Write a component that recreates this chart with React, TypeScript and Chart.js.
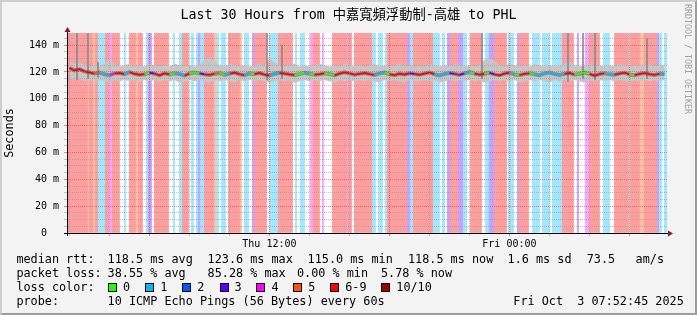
import React, { useEffect, useRef } from "react";
import { Chart, registerables } from "chart.js";

Chart.register(...registerables);

const MONO = "'DejaVu Sans Mono', 'Noto Sans CJK TC', monospace";

const TITLE = "Last 30 Hours from 中嘉寬頻浮動制-高雄 to PHL";
const SPAN_MINUTES = 1800;
const SAMPLE_MINUTES = 3;
const MEDIAN_STEP_MINUTES = 15;
const Y_MAX = 149;
const Y_GRID_STEP = 5;
const FIRST_TICK_MINUTE = 7.25;
const TICK_STEP_MINUTES = 120;

const xTickHours = [2, 4, 6, 8, 10, 12, 14, 16, 18, 20, 22, 0, 2, 4, 6];
const xTickLabels = ["", "", "", "", "", "Thu 12:00", "", "", "", "", "", "Fri 00:00", "", "", ""];
const yTickLabels = ["0  ", "20 m", "40 m", "60 m", "80 m", "100 m", "120 m", "140 m"];

const lossLabels = ["0", "1", "2", "3", "4", "5", "6-9", "10/10"];
const lossColors = ["#26ff00", "#00b8ff", "#0059ff", "#5e00ff", "#ff00fe", "#ff5500", "#ff0000", "#a10000"];
const lossShade = [
  "#ffffff",
  "rgba(0,184,255,0.33)",
  "rgba(0,89,255,0.33)",
  "rgba(94,0,255,0.33)",
  "rgba(255,0,254,0.33)",
  "rgba(255,85,0,0.33)",
  "rgba(255,0,0,0.34)",
  "rgba(161,0,0,0.33)",
];

// [loss class index, number of 3-minute samples]
const lossSegments: [number, number][] = [
  [6, 21], [5, 1], [6, 4], [5, 2], [6, 3], [1, 7], [6, 4], [4, 3], [6, 8], [0, 4], [1, 2], [0, 3],
  [6, 7], [5, 2], [6, 5], [0, 3], [1, 2], [3, 4], [0, 2], [6, 15], [0, 4], [1, 2], [0, 4], [1, 3],
  [6, 7], [0, 2], [1, 3], [0, 2], [1, 2], [3, 2], [1, 4], [6, 10], [5, 2], [1, 3], [0, 2], [1, 5],
  [0, 2], [6, 12], [5, 2], [0, 2], [1, 5], [0, 3], [3, 2], [6, 13],
  [0, 2], [1, 9], [6, 15], [0, 2], [1, 2], [0, 3], [1, 5], [0, 5], [4, 3], [6, 7], [0, 2], [4, 2],
  [0, 8], [6, 15], [4, 1], [6, 4], [0, 2], [6, 18], [1, 4], [0, 2], [1, 5], [0, 2], [1, 2], [6, 20],
  [3, 3], [1, 3], [6, 20], [1, 7], [0, 2], [1, 3], [0, 2], [3, 3], [6, 8], [3, 5], [1, 4], [0, 3],
  [6, 12], [0, 3], [1, 4], [3, 5], [6, 13], [0, 1], [1, 6], [0, 3], [3, 2], [6, 10], [0, 3], [1, 8],
  [0, 2], [1, 8], [0, 2], [1, 10], [6, 12], [0, 3], [3, 2], [0, 6], [4, 4], [6, 11], [0, 3], [1, 7],
  [0, 4], [6, 15], [0, 1], [6, 10], [5, 4], [6, 13], [3, 2], [1, 3], [0, 2], [1, 3],
];

// median rtt (ms), one value per 15 minutes
const medianRtt = [
  122.8, 121.2, 122.0, 120.4, 119.6, 118.8, 119.5, 118.2, 117.6, 118.9,
  119.2, 118.4, 119.8, 118.6, 117.9, 118.3, 119.4, 118.7, 117.5, 118.9,
  118.1, 119.0, 118.5, 117.2, 118.8, 119.6, 118.9, 118.2, 117.8, 118.6,
  119.1, 118.0, 118.7, 119.5, 118.3, 117.6, 118.9, 118.4, 119.2, 118.0,
  117.4, 118.6, 119.3, 118.8, 118.1, 117.7, 118.5, 119.4, 118.6, 117.9,
  118.3, 119.0, 118.4, 117.5, 118.8, 119.7, 118.9, 118.0, 118.6, 119.2,
  118.4, 117.8, 118.9, 119.5, 118.2, 117.6, 118.7, 118.1, 119.0, 118.5,
  117.9, 118.8, 119.6, 118.3, 117.4, 118.5, 119.1, 118.6, 117.8, 118.9,
  119.8, 118.7, 118.0, 118.6, 119.3, 118.2, 117.5, 118.8, 119.4, 118.1,
  117.7, 118.5, 119.0, 118.3, 117.6, 118.9, 119.5, 118.4, 117.8, 118.6,
  119.2, 118.0, 118.7, 119.6, 118.5, 117.3, 118.4, 119.0, 118.2, 117.9,
  118.8, 119.4, 118.1, 117.6, 118.5, 119.1, 118.3, 117.8, 118.6, 118.4,
];

// smoke envelope (ms), one value per 15 minutes
const smokeHigh = [
  128, 126, 127, 125, 124, 125, 124, 126, 130, 125,
  124, 125, 126, 124, 125, 124, 126, 125, 124, 125,
  124, 126, 125, 124, 125, 124, 125, 129, 131, 128,
  125, 124, 126, 125, 124, 125, 124, 125, 126, 125,
  130, 127, 125, 124, 125, 126, 124, 125, 124, 125,
  126, 125, 124, 125, 124, 126, 125, 124, 125, 124,
  125, 126, 124, 125, 124, 125, 126, 124, 125, 124,
  125, 124, 126, 125, 124, 125, 124, 126, 125, 124,
  125, 124, 125, 129, 130, 128, 125, 124, 126, 125,
  124, 125, 124, 126, 125, 124, 125, 124, 125, 126,
  128, 125, 124, 125, 126, 124, 125, 124, 125, 124,
  126, 125, 124, 125, 124, 125, 126, 124, 125, 125,
];
const smokeLow = [
  116, 114, 115, 113, 114, 113, 114, 113, 112, 114,
  113, 114, 113, 114, 112, 114, 113, 114, 113, 114,
  113, 114, 112, 113, 114, 113, 114, 113, 112, 114,
  113, 114, 113, 112, 114, 113, 114, 113, 114, 113,
  112, 113, 114, 113, 114, 112, 113, 114, 113, 114,
  113, 114, 113, 112, 114, 113, 114, 113, 114, 113,
  114, 113, 112, 114, 113, 114, 113, 112, 114, 113,
  113, 114, 113, 114, 112, 113, 114, 113, 114, 113,
  114, 113, 114, 112, 113, 114, 113, 114, 113, 114,
  112, 113, 114, 113, 114, 113, 112, 114, 113, 114,
  113, 114, 113, 112, 114, 113, 114, 113, 114, 113,
  114, 113, 112, 114, 113, 114, 113, 114, 113, 114,
];

// single-ping outliers (minute from start, low ms, high ms)
const spikeMinutes = [30, 63, 93, 600, 645, 1245, 1503, 1548, 1584, 1740];
const spikeLows = [114, 115, 116, 114, 115, 115, 113, 115, 114, 115];
const spikeHighs = [149, 149, 127, 149, 140, 149, 149, 149, 149, 145];

const medianStats = ["118.5 ms avg", "123.6 ms max", "115.0 ms min", "118.5 ms now", "1.6 ms sd", "73.5", "am/s"];
const lossStats = ["38.55 % avg", "85.28 % max", "0.00 % min", "5.78 % now"];
const PROBE = "10 ICMP Echo Pings (56 Bytes) every 60s";
const DATE_TEXT = "Fri Oct  3 07:52:45 2025";

const medianStatX = [107.6, 207.6, 307.6, 408, 507.6, 586.7, 635.6];
const lossStatX = [107.6, 207.6, 297, 381];
const lossBoxX = [108, 145.3, 182.2, 219.6, 256.4, 293.3, 330.2, 381.3];

const MAJOR = "rgba(235,60,60,0.6)";
const MINOR = "rgba(150,150,150,0.55)";

const lossBySample: number[] = lossSegments.flatMap(([lvl, n]) => Array(n).fill(lvl));

function lossAt(minute: number): number {
  const i = Math.min(lossBySample.length - 1, Math.max(0, Math.floor(minute / SAMPLE_MINUTES)));
  return lossBySample[i];
}

const plotDecor = {
  id: "plotDecor",
  beforeDraw(chart: any) {
    const { ctx, chartArea: a } = chart;
    ctx.save();
    ctx.fillStyle = "#ffffff";
    ctx.fillRect(a.left, a.top, a.right - a.left, a.bottom - a.top);
    ctx.restore();
  },
  afterDraw(chart: any) {
    const { ctx, chartArea: a } = chart;
    ctx.save();
    ctx.strokeStyle = "#000";
    ctx.lineWidth = 1;
    ctx.beginPath();
    ctx.moveTo(a.left - 3, Math.round(a.bottom) + 0.5);
    ctx.lineTo(a.right + 3, Math.round(a.bottom) + 0.5);
    ctx.moveTo(Math.round(a.left) + 0.5, a.bottom + 3);
    ctx.lineTo(Math.round(a.left) + 0.5, a.top - 2);
    ctx.stroke();
    ctx.fillStyle = "#8b1a1a";
    const by = Math.round(a.bottom) + 0.5;
    ctx.beginPath();
    ctx.moveTo(a.right + 1, by - 3);
    ctx.lineTo(a.right + 6, by);
    ctx.lineTo(a.right + 1, by + 3);
    ctx.closePath();
    ctx.fill();
    const lx = Math.round(a.left) + 0.5;
    ctx.beginPath();
    ctx.moveTo(lx - 3, a.top - 1);
    ctx.lineTo(lx, a.top - 6);
    ctx.lineTo(lx + 3, a.top - 1);
    ctx.closePath();
    ctx.fill();
    ctx.restore();
  },
};

export default function App() {
  const ref = useRef<HTMLCanvasElement | null>(null);

  useEffect(() => {
    if (!ref.current) return;
    const xOf = (i: number) => i * MEDIAN_STEP_MINUTES + MEDIAN_STEP_MINUTES / 2;
    const medianPoints = medianRtt.map((v, i) => ({ x: xOf(i), y: v }));

    const chart = new Chart(ref.current, {
      type: "line",
      data: {
        datasets: [
          {
            type: "line",
            label: "median",
            data: medianPoints,
            borderWidth: 1.8,
            borderColor: lossColors[6],
            segment: { borderColor: (c: any) => lossColors[lossAt(c.p0.parsed.x)] },
            pointRadius: 0,
            fill: false,
            order: 0,
          },
          {
            type: "line",
            label: "median shadow",
            data: medianPoints,
            borderWidth: 4,
            borderColor: "rgba(60,60,60,0.4)",
            pointRadius: 0,
            fill: false,
            order: 2,
          },
          {
            type: "bar",
            label: "outliers",
            data: spikeMinutes.map((t, i) => ({ x: t, y: [spikeLows[i], spikeHighs[i]] })),
            backgroundColor: "#8a8a8a",
            barThickness: 1,
            grouped: false,
            order: 3,
          },
          {
            type: "line",
            label: "smoke high",
            data: smokeHigh.map((v, i) => ({ x: xOf(i), y: v })),
            fill: "+1",
            backgroundColor: "#c6c6c6",
            borderColor: "transparent",
            borderWidth: 0,
            pointRadius: 0,
            order: 5,
          },
          {
            type: "line",
            label: "smoke low",
            data: smokeLow.map((v, i) => ({ x: xOf(i), y: v })),
            fill: false,
            borderColor: "transparent",
            borderWidth: 0,
            pointRadius: 0,
            order: 5,
          },
          {
            type: "bar",
            label: "loss",
            data: lossBySample.map((_, i) => ({ x: i * SAMPLE_MINUTES + SAMPLE_MINUTES / 2, y: Y_MAX })),
            backgroundColor: lossBySample.map((l) => lossShade[l]),
            barPercentage: 1,
            categoryPercentage: 1,
            grouped: false,
            borderWidth: 0,
            order: 20,
          },
        ] as any,
      },
      options: {
        responsive: false,
        animation: false,
        devicePixelRatio: 1,
        layout: { padding: { top: 33, right: 30, left: 0, bottom: 0 } },
        plugins: { legend: { display: false }, tooltip: { enabled: false }, title: { display: false } },
        elements: { point: { radius: 0 } },
        scales: {
          x: {
            type: "linear",
            min: 0,
            max: SPAN_MINUTES,
            offset: false,
            afterBuildTicks: (s: any) => {
              s.ticks = xTickHours.map((_, k) => ({ value: FIRST_TICK_MINUTE + k * TICK_STEP_MINUTES }));
            },
            afterFit: (s: any) => {
              s.height = 82;
            },
            ticks: {
              autoSkip: false,
              maxRotation: 0,
              minRotation: 0,
              padding: 2,
              color: "#000",
              font: { family: MONO, size: 10 },
              callback: (_v: any, i: number) => xTickLabels[i],
            },
            grid: {
              z: 1,
              offset: false,
              color: (c: any) => (xTickHours[c.index] % 6 === 0 ? MAJOR : MINOR),
              tickLength: 3,
              lineWidth: 1,
            },
            border: { display: true, color: "#000", width: 1, dash: [1, 1], z: 2 },
          },
          y: {
            type: "linear",
            min: 0,
            max: Y_MAX,
            afterBuildTicks: (s: any) => {
              const t: { value: number }[] = [];
              for (let v = 0; v < Y_MAX; v += Y_GRID_STEP) t.push({ value: v });
              s.ticks = t;
            },
            afterFit: (s: any) => {
              s.width = 67;
            },
            ticks: {
              autoSkip: false,
              padding: 5,
              color: "#000",
              font: { family: MONO, size: 10 },
              callback: (v: any) => (v % 20 === 0 ? yTickLabels[v / 20] : ""),
            },
            grid: {
              z: 1,
              color: (c: any) => (c.tick && c.tick.value % 20 === 0 ? MAJOR : MINOR),
              tickLength: 3,
              lineWidth: 1,
            },
            border: { display: true, color: "#000", width: 1, dash: [1, 1], z: 2 },
            title: {
              display: true,
              text: "Seconds",
              color: "#000",
              font: { family: MONO, size: 11.8 },
              padding: { top: 3, bottom: 0 },
            },
          },
        },
      } as any,
      plugins: [plotDecor],
    } as any);
    return () => chart.destroy();
  }, []);

  const txt = (x: number, y: number, s: string, key?: string) => (
    <span key={key} style={{ position: "absolute", left: x, top: y, lineHeight: "14px", fontSize: 11.8, whiteSpace: "pre" }}>
      {s}
    </span>
  );

  return (
    <div
      style={{
        position: "fixed",
        left: 0,
        top: 0,
        width: 697,
        height: 315,
        background: "#f3f3f3",
        overflow: "hidden",
        fontFamily: MONO,
        color: "#000",
      }}
    >
      <canvas ref={ref} width={697} height={315} style={{ position: "absolute", left: 0, top: 0, width: 697, height: 315 }} />
      <div
        style={{
          position: "absolute",
          left: 0,
          top: 6,
          width: 697,
          textAlign: "center",
          fontSize: 13.3,
          lineHeight: "18px",
          whiteSpace: "pre",
        }}
      >
        {TITLE}
      </div>
      <div
        style={{
          position: "absolute",
          left: 683,
          top: 4,
          writingMode: "vertical-rl",
          fontSize: 8.3,
          lineHeight: "9px",
          color: "#a0a0a0",
          whiteSpace: "pre",
        }}
      >
        RRDTOOL / TOBI OETIKER
      </div>

      {txt(16.4, 252, "median rtt:")}
      {medianStats.map((s, i) => txt(medianStatX[i], 252, s, "m" + i))}

      {txt(16.4, 266, "packet loss:")}
      {lossStats.map((s, i) => txt(lossStatX[i], 266, s, "l" + i))}

      {txt(16.4, 280, "loss color:")}
      {lossLabels.map((s, i) => (
        <React.Fragment key={"b" + i}>
          <span
            style={{
              position: "absolute",
              left: lossBoxX[i],
              top: 283,
              width: 9,
              height: 9,
              boxSizing: "border-box",
              border: "1px solid #000",
              background: lossColors[i],
            }}
          />
          {txt(lossBoxX[i] + 15, 280, s)}
        </React.Fragment>
      ))}

      {txt(16.4, 294, "probe:")}
      {txt(107.6, 294, PROBE)}
      {txt(513.3, 294, DATE_TEXT)}

      <div
        style={{
          position: "absolute",
          left: 0,
          top: 0,
          width: 697,
          height: 315,
          boxSizing: "border-box",
          borderStyle: "solid",
          borderWidth: 2,
          borderColor: "#cfcfcf #9e9e9e #9e9e9e #cfcfcf",
          pointerEvents: "none",
        }}
      />
    </div>
  );
}
